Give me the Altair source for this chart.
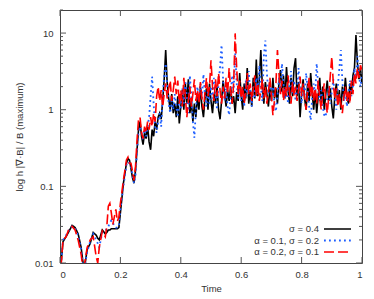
import altair as alt
import pandas as pd

# ---------------- data ----------------
t_early = [0.0, 0.01, 0.02, 0.03, 0.04, 0.05, 0.06, 0.07, 0.075, 0.08,
           0.09, 0.10, 0.11, 0.12, 0.125, 0.13, 0.14, 0.15, 0.155, 0.16,
           0.165, 0.17, 0.175, 0.18, 0.185, 0.19, 0.195, 0.20, 0.21, 0.22,
           0.225, 0.23, 0.235, 0.24, 0.245, 0.25, 0.255, 0.26]

black_early = [0.007, 0.019, 0.022, 0.026, 0.031, 0.029, 0.024, 0.016, 0.011, 0.008,
               0.015, 0.018, 0.025, 0.023, 0.021, 0.020, 0.027, 0.024, 0.025, 0.027,
               0.027, 0.028, 0.028, 0.028, 0.028, 0.028, 0.029, 0.045, 0.11, 0.20,
               0.23, 0.22, 0.17, 0.13, 0.11, 0.16, 0.30, 0.55]
blue_early = [0.007, 0.020, 0.023, 0.027, 0.030, 0.028, 0.023, 0.015, 0.010, 0.008,
              0.014, 0.019, 0.024, 0.020, 0.018, 0.016, 0.025, 0.026, 0.028, 0.030,
              0.033, 0.036, 0.034, 0.030, 0.029, 0.029, 0.030, 0.050, 0.10, 0.19,
              0.21, 0.20, 0.18, 0.14, 0.11, 0.14, 0.28, 0.50]
red_early = [0.006, 0.020, 0.022, 0.028, 0.030, 0.027, 0.020, 0.013, 0.009, 0.009,
             0.016, 0.020, 0.022, 0.012, 0.010, 0.016, 0.026, 0.022, 0.030, 0.055,
             0.060, 0.045, 0.032, 0.040, 0.050, 0.035, 0.040, 0.060, 0.12, 0.22,
             0.24, 0.20, 0.20, 0.16, 0.12, 0.18, 0.40, 0.75]

# from t = 0.265 to 1.0, every 0.005
black_late = [0.7, 0.45, 0.35, 0.5, 0.42, 0.6, 0.38, 0.3, 0.55, 0.45,
              0.7, 0.55, 0.8, 0.9, 0.75, 1.3, 2.5, 6.0, 2.2, 1.4,
              1.0, 1.6, 0.9, 1.2, 0.8, 1.5, 0.66, 1.1, 1.8, 1.0,
              2.2, 1.2, 2.5, 0.9, 1.3, 0.7, 1.2, 0.8, 1.5, 1.0,
              2.0, 1.1, 0.8, 1.4, 1.9, 1.0, 2.2, 1.3, 0.9, 1.6,
              1.2, 2.0, 1.0, 0.75, 1.3, 2.4, 1.6, 1.1, 1.8, 1.3,
              2.0, 1.2, 1.5, 0.9, 1.7, 1.3, 3.0, 1.5, 1.0, 2.2,
              1.4, 3.5, 1.2, 1.8, 1.1, 2.6, 1.4, 4.5, 1.5, 2.5,
              6.0, 2.0, 1.2, 2.3, 1.6, 1.1, 1.9, 1.3, 2.6, 1.4,
              1.9, 1.2, 2.2, 3.3, 1.7, 2.8, 1.4, 3.6, 1.8, 1.2,
              2.6, 1.5, 3.5, 4.7, 1.5, 2.3, 0.8, 1.6, 2.5, 1.4,
              1.0, 2.2, 1.3, 3.0, 1.7, 1.0, 1.8, 0.9, 1.5, 2.6,
              1.2, 2.0, 1.0, 1.6, 2.4, 1.3, 1.9, 1.1, 0.77, 1.5,
              2.2, 1.2, 1.8, 1.0, 2.0, 1.4, 2.6, 1.5, 1.2, 2.2,
              1.6, 2.8, 3.5, 9.4, 4.0, 2.5, 3.5, 2.2]
blue_late = [0.6, 0.5, 0.4, 0.55, 0.45, 0.6, 0.8, 1.5, 2.7, 1.2,
             0.6, 0.5, 0.7, 0.9, 0.6, 1.5, 2.8, 4.0, 2.0, 1.2,
             0.9, 1.3, 1.0, 1.6, 1.1, 0.8, 1.4, 1.0, 1.9, 1.2,
             2.4, 1.4, 0.9, 2.8, 1.5, 0.7, 0.43, 1.0, 2.0, 1.3,
             2.2, 1.4, 2.9, 1.5, 1.1, 1.8, 1.2, 2.0, 1.4, 2.6,
             1.6, 1.0, 2.3, 3.6, 7.0, 2.5, 1.3, 1.9, 1.1, 0.85,
             1.5, 2.8, 1.7, 5.5, 2.2, 1.4, 2.0, 1.3, 1.8, 1.1,
             2.4, 1.5, 3.2, 1.7, 1.1, 2.0, 1.4, 2.6, 1.6, 3.8,
             2.0, 1.3, 5.0, 8.0, 3.0, 1.6, 2.4, 1.4, 2.0, 1.2,
             0.95, 1.5, 2.6, 1.7, 4.0, 2.2, 1.4, 2.0, 1.2, 1.8,
             3.2, 1.6, 2.4, 1.3, 1.9, 3.5, 1.8, 1.2, 2.0, 1.5,
             3.0, 1.8, 1.1, 0.73, 1.4, 2.2, 1.6, 4.0, 2.0, 1.3,
             1.8, 1.1, 0.85, 0.81, 1.4, 2.0, 1.2, 1.7, 2.5, 1.5,
             1.0, 2.0, 3.5, 6.0, 2.4, 1.3, 1.8, 1.1, 1.6, 2.4,
             1.5, 2.0, 3.5, 2.6, 5.0, 2.8, 2.0, 3.0]
red_late = [0.8, 0.5, 0.42, 0.6, 0.5, 0.7, 0.55, 0.8, 0.6, 0.9,
            0.7, 1.5, 2.0, 1.3, 1.8, 1.1, 1.6, 2.2, 1.4, 1.9,
            2.4, 1.3, 1.8, 2.7, 1.6, 2.4, 1.2, 1.8, 1.1, 2.6,
            1.5, 0.8, 1.3, 2.0, 1.1, 1.6, 2.5, 1.3, 1.8, 1.2,
            2.3, 1.4, 1.0, 1.7, 2.6, 1.5, 2.0, 4.4, 2.0, 1.3,
            2.5, 1.5, 3.0, 1.8, 1.2, 2.0, 1.4, 2.6, 1.6, 3.5,
            1.8, 1.2, 2.2, 9.9, 3.5, 1.6, 2.4, 1.4, 2.0, 1.2,
            1.7, 3.0, 1.6, 2.2, 1.3, 1.9, 2.8, 1.5, 2.2, 1.3,
            1.8, 2.5, 1.4, 2.0, 1.2, 1.7, 2.6, 1.5, 0.85, 1.3,
            2.2, 6.0, 3.0, 1.6, 2.4, 1.3, 2.0, 1.5, 2.8, 1.7,
            1.2, 2.3, 1.5, 2.0, 1.3, 1.8, 2.7, 1.5, 2.2, 1.4,
            1.0, 1.8, 2.6, 1.5, 2.1, 1.3, 1.9, 1.2, 2.4, 1.4,
            1.0, 1.6, 2.2, 1.3, 0.9, 1.5, 2.8, 4.9, 2.2, 1.4,
            1.9, 1.1, 1.6, 1.2, 0.9, 1.5, 2.0, 1.3, 1.8, 1.2,
            2.4, 1.6, 3.0, 2.2, 3.5, 2.6, 3.8, 3.2]

series_names = ["σ = 0.4", "α = 0.1, σ = 0.2", "α = 0.2, σ = 0.1"]
series_colors = ["#000000", "#1e5eff", "#ff0000"]

x_major = [0, 0.2, 0.4, 0.6, 0.8, 1]
y_major = [0.01, 0.1, 1, 10]
y_minor = [0.02, 0.03, 0.04, 0.05, 0.06, 0.07, 0.08, 0.09,
           0.2, 0.3, 0.4, 0.5, 0.6, 0.7, 0.8, 0.9,
           2, 3, 4, 5, 6, 7, 8, 9, 20]

# ---------------- build tables ----------------
def late_times(n):
    return [round(0.265 + 0.005 * i, 3) for i in range(n)]

rows = []
for name, early, late in zip(series_names,
                             [black_early, blue_early, red_early],
                             [black_late, blue_late, red_late]):
    for t, v in zip(t_early, early):
        rows.append({"t": t, "v": v, "s": name})
    for t, v in zip(late_times(len(late)), late):
        rows.append({"t": t, "v": v, "s": name})
df = pd.DataFrame(rows)

W, H = 302, 253
FONT = "Liberation Sans"
xs = alt.Scale(domain=[0, 1], nice=False, zero=False)
ys = alt.Scale(type="log", domain=[0.01, 20], nice=False)

x_axis = alt.Axis(values=x_major, format="~g", title="Time",
                  ticks=False, tickSize=0, domain=False, grid=False,
                  labelPadding=6, titlePadding=5,
                  labelFontSize=9.5, titleFontSize=9.5,
                  labelFont=FONT, titleFont=FONT,
                  labelColor="#333", titleColor="#333",
                  titleFontWeight="normal")
y_axis = alt.Axis(values=y_major, format="~g",
                  title="log h |∇·B| / B (maximum)",
                  ticks=False, tickSize=0, domain=False, grid=False,
                  labelPadding=7, titlePadding=10,
                  labelFontSize=9.5, titleFontSize=9.5,
                  labelFont=FONT, titleFont=FONT,
                  labelColor="#333", titleColor="#333",
                  titleFontWeight="normal")

dashes = [[1, 0], [1.8, 3.2], [10, 4]]
widths = [1.6, 1.8, 1.6]

line_layers = []
for i, (name, col) in enumerate(zip(series_names, series_colors)):
    first = i == 0
    line_layers.append(
        alt.Chart(df).transform_filter(alt.datum.s == name)
        .mark_line(color=col, strokeDash=dashes[i], strokeWidth=widths[i], clip=True)
        .encode(x=alt.X("t:Q", scale=xs, axis=x_axis),
                y=alt.Y("v:Q", scale=ys, axis=y_axis if first else None))
    )

# ---------------- inward ticks (gnuplot style) ----------------
xt = pd.DataFrame({"t": x_major})
ymaj = pd.DataFrame({"v": y_major})
ymin = pd.DataFrame({"v": y_minor})
TC = "#555"
tick_layers = [
    alt.Chart(xt).mark_rule(color=TC, strokeWidth=1).encode(
        x=alt.X("t:Q", scale=xs, axis=x_axis), y=alt.value(H), y2=alt.value(H - 6)),
    alt.Chart(xt).mark_rule(color=TC, strokeWidth=1).encode(
        x=alt.X("t:Q", scale=xs, axis=x_axis), y=alt.value(0), y2=alt.value(6)),
    alt.Chart(ymaj).mark_rule(color=TC, strokeWidth=1).encode(
        y=alt.Y("v:Q", scale=ys, axis=None), x=alt.value(0), x2=alt.value(6)),
    alt.Chart(ymaj).mark_rule(color=TC, strokeWidth=1).encode(
        y=alt.Y("v:Q", scale=ys, axis=None), x=alt.value(W), x2=alt.value(W - 6)),
    alt.Chart(ymin).mark_rule(color=TC, strokeWidth=1).encode(
        y=alt.Y("v:Q", scale=ys, axis=None), x=alt.value(0), x2=alt.value(3)),
    alt.Chart(ymin).mark_rule(color=TC, strokeWidth=1).encode(
        y=alt.Y("v:Q", scale=ys, axis=None), x=alt.value(W), x2=alt.value(W - 3)),
]

# ---------------- legend (label left, sample right) ----------------
leg = pd.DataFrame({"s": series_names, "c": series_colors})
ly = alt.Scale(type="point", domain=series_names, range=[219, 242], padding=0)
legend_text = alt.Chart(leg).mark_text(align="right", baseline="middle",
                                       font=FONT, fontSize=9.5, color="#333").encode(
    x=alt.value(259), y=alt.Y("s:N", scale=ly, axis=None), text="s:N")
legend_lines = []
for i, (name, col) in enumerate(zip(series_names, series_colors)):
    legend_lines.append(
        alt.Chart(leg).transform_filter(alt.datum.s == name)
        .mark_rule(color=col, strokeDash=dashes[i], strokeWidth=widths[i])
        .encode(x=alt.value(264), x2=alt.value(291),
                y=alt.Y("s:N", scale=ly, axis=None))
    )

chart = alt.layer(*line_layers, *tick_layers, legend_text, *legend_lines).resolve_scale(
    y="independent"
).properties(
    width=W, height=H, autosize="none",
    padding={"left": 52, "top": 2, "right": 4, "bottom": 33},
).configure_view(stroke="#444", strokeWidth=1)

chart.save("out.html", embed_options={"renderer": "svg", "actions": False})
